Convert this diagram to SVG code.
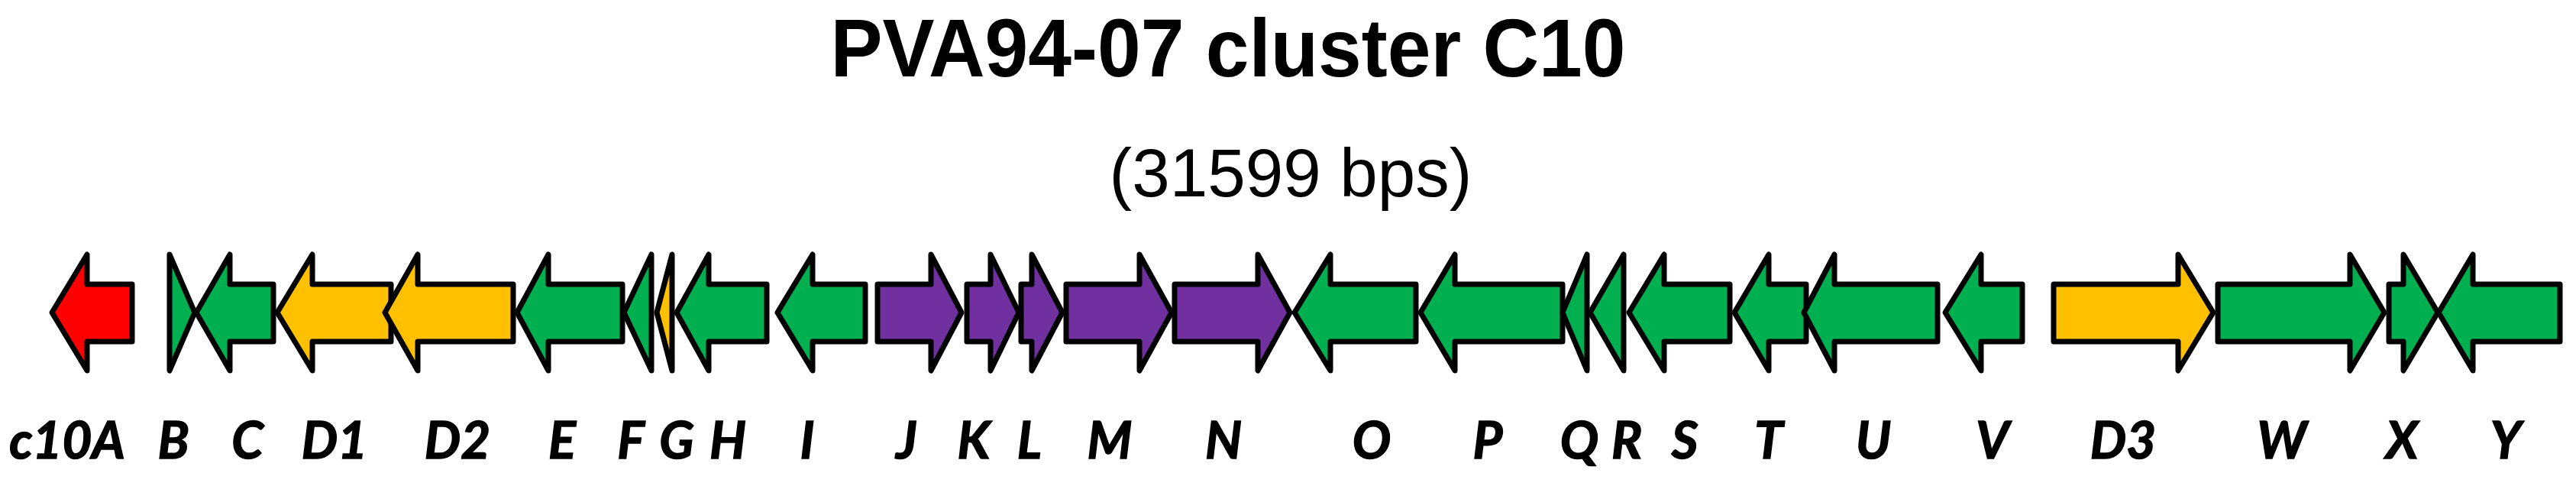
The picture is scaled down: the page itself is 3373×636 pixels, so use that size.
<svg xmlns="http://www.w3.org/2000/svg" width="3373" height="636" viewBox="0 0 3373 636">
<style>
.g{stroke:#000;stroke-width:7;stroke-linejoin:round}
.red{fill:#FF0000}.grn{fill:#00B050}.org{fill:#FFC000}.pur{fill:#7030A0}
.lbl{font-family:Lato,"Open Sans","Liberation Sans",sans-serif;font-weight:bold;font-style:italic;font-size:67px;fill:#000;stroke:#000;stroke-width:1.5;text-anchor:middle}
.title{font-family:"Liberation Sans",Arial,sans-serif;font-weight:bold;font-size:107px;fill:#000;text-anchor:middle}
.sub{font-family:"Liberation Sans",Arial,sans-serif;font-size:89px;fill:#000;text-anchor:middle}
</style>
<rect width="3373" height="636" fill="#fff"/>
<text class="title" x="1608" y="100" textLength="1041" lengthAdjust="spacingAndGlyphs">PVA94-07 cluster C10</text>
<text class="sub" x="1690" y="257" textLength="475" lengthAdjust="spacingAndGlyphs">(31599 bps)</text>
<g id="connectors"/>
<g id="c10A"><path class="g red" d="M68 409L114 333L114 372L173 372L173 447L114 447L114 485Z"/><text class="lbl" x="88" y="600">c10A</text></g>
<g id="B"><path class="g grn" d="M222 333L255 409L222 485Z"/><text class="lbl" x="227" y="600">B</text></g>
<g id="C"><path class="g grn" d="M257 409L301 333L301 372L358 372L358 447L301 447L301 485Z"/><text class="lbl" x="324" y="600">C</text></g>
<g id="D1"><path class="g org" d="M363 409L409 333L409 372L512 372L512 447L409 447L409 485Z"/><text class="lbl" x="438" y="600">D1</text></g>
<g id="D2"><path class="g org" d="M504 409L547 333L547 372L672 372L672 447L547 447L547 485Z"/><text class="lbl" x="599" y="600">D2</text></g>
<g id="E"><path class="g grn" d="M677 409L718 333L718 372L815 372L815 447L718 447L718 485Z"/><text class="lbl" x="736" y="600">E</text></g>
<g id="F"><path class="g grn" d="M817 409L853 333L853 485Z"/><text class="lbl" x="826" y="600">F</text></g>
<g id="G"><path class="g org" d="M860 409L880 333L880 485Z"/><text class="lbl" x="886" y="600">G</text></g>
<g id="H"><path class="g grn" d="M886 409L928 333L928 372L1004 372L1004 447L928 447L928 485Z"/><text class="lbl" x="953" y="600">H</text></g>
<g id="I"><path class="g grn" d="M1018 409L1064 333L1064 372L1133 372L1133 447L1064 447L1064 485Z"/><text class="lbl" x="1057" y="600">I</text></g>
<g id="J"><path class="g pur" d="M1149 372L1219 372L1219 333L1259 409L1219 485L1219 447L1149 447Z"/><text class="lbl" x="1187" y="600">J</text></g>
<g id="K"><path class="g pur" d="M1266 372L1297 372L1297 333L1334 409L1297 485L1297 447L1266 447Z"/><text class="lbl" x="1275" y="600">K</text></g>
<g id="L"><path class="g pur" d="M1337 372L1351 372L1351 333L1391 409L1351 485L1351 447L1337 447Z"/><text class="lbl" x="1348" y="600">L</text></g>
<g id="M"><path class="g pur" d="M1396 372L1492 372L1492 333L1534 409L1492 485L1492 447L1396 447Z"/><text class="lbl" x="1453" y="600">M</text></g>
<g id="N"><path class="g pur" d="M1538 372L1647 372L1647 333L1689 409L1647 485L1647 447L1538 447Z"/><text class="lbl" x="1602" y="600">N</text></g>
<g id="O"><path class="g grn" d="M1695 409L1742 333L1742 372L1854 372L1854 447L1742 447L1742 485Z"/><text class="lbl" x="1796" y="600">O</text></g>
<g id="P"><path class="g grn" d="M1860 409L1905 333L1905 372L2046 372L2046 447L1905 447L1905 485Z"/><text class="lbl" x="1948" y="600">P</text></g>
<g id="Q"><path class="g grn" d="M2046 409L2078 333L2078 485Z"/><text class="lbl" x="2068" y="600">Q</text></g>
<g id="R"><path class="g grn" d="M2082 409L2126 333L2126 485Z"/><text class="lbl" x="2130" y="600">R</text></g>
<g id="S"><path class="g grn" d="M2133 409L2179 333L2179 372L2265 372L2265 447L2179 447L2179 485Z"/><text class="lbl" x="2206" y="600">S</text></g>
<g id="T"><path class="g grn" d="M2271 409L2316 333L2316 372L2365 372L2365 447L2316 447L2316 485Z"/><text class="lbl" x="2316" y="600">T</text></g>
<g id="U"><path class="g grn" d="M2362 409L2402 333L2402 372L2537 372L2537 447L2402 447L2402 485Z"/><text class="lbl" x="2453" y="600">U</text></g>
<g id="V"><path class="g grn" d="M2547 409L2594 333L2594 372L2648 372L2648 447L2594 447L2594 485Z"/><text class="lbl" x="2609" y="600">V</text></g>
<g id="D3"><path class="g org" d="M2689 372L2852 372L2852 333L2898 409L2852 485L2852 447L2689 447Z"/><text class="lbl" x="2780" y="600">D3</text></g>
<g id="W"><path class="g grn" d="M2904 372L3077 372L3077 333L3122 409L3077 485L3077 447L2904 447Z"/><text class="lbl" x="2988" y="600">W</text></g>
<g id="X"><path class="g grn" d="M3128 372L3147 372L3147 333L3192 409L3147 485L3147 447L3128 447Z"/><text class="lbl" x="3145" y="600">X</text></g>
<g id="Y"><path class="g grn" d="M3193 409L3238 333L3238 372L3352 372L3352 447L3238 447L3238 485Z"/><text class="lbl" x="3281" y="600">Y</text></g>
</svg>
